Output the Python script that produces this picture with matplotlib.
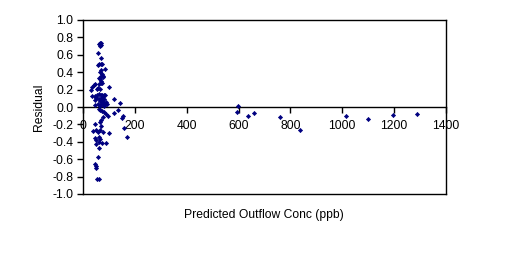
import matplotlib
matplotlib.use("Agg")
import matplotlib.pyplot as plt
from matplotlib.ticker import FormatStrFormatter

plt.rcParams["font.family"] = ["Liberation Sans", "DejaVu Sans"]

# predicted outflow concentration (ppb) and residuals
pred_conc = [
    62, 67, 71, 65, 70, 57, 69, 58, 63, 70, 74, 66, 73, 85, 70,
    60, 67, 71, 76, 69, 78, 62, 70, 75, 100,
    31, 36, 41, 47, 55, 58, 64,
    35, 45, 50, 55, 62, 68, 72, 76, 80, 85,
    46, 52, 60, 66, 70, 74, 78, 82, 88, 118,
    46, 58, 64, 70, 76, 80, 86, 92, 141,
    60, 66, 74, 80, 88, 95, 118, 136, 155, 150,
    45, 64, 70, 78, 68,
    39, 50, 56, 66, 100, 78, 157, 170,
    46, 52, 60, 64, 52, 62, 75, 88,
    63, 59, 45, 49, 52, 54, 61,
    598, 593, 635, 659, 760, 837, 1014, 1098, 1194, 1287,
]
residual = [
    0.72, 0.74, 0.71, 0.70, 0.73, 0.62, 0.56, 0.48, 0.49, 0.50, 0.50, 0.40, 0.38, 0.44, 0.42,
    0.33, 0.32, 0.36, 0.36, 0.30, 0.34, 0.27, 0.28, 0.28, 0.23,
    0.20, 0.23, 0.25, 0.26, 0.21, 0.22, 0.21,
    0.13, 0.13, 0.12, 0.14, 0.15, 0.14, 0.14, 0.13, 0.14, 0.14,
    0.08, 0.10, 0.09, 0.07, 0.10, 0.08, 0.06, 0.09, 0.06, 0.09,
    0.02, 0.03, 0.01, 0.04, 0.03, 0.01, 0.04, 0.03, 0.05,
    -0.02, -0.03, -0.05, -0.06, -0.08, -0.10, -0.065, -0.035, -0.10, -0.13,
    -0.19, -0.17, -0.15, -0.12, -0.22,
    -0.28, -0.27, -0.29, -0.27, -0.30, -0.29, -0.24, -0.34,
    -0.36, -0.38, -0.35, -0.37, -0.42, -0.40, -0.41, -0.41,
    -0.475, -0.58, -0.66, -0.68, -0.70, -0.83, -0.83,
    0.015, -0.054, -0.10, -0.065, -0.12, -0.27, -0.10, -0.135, -0.088, -0.077,
]

x_ticks = [0, 200, 400, 600, 800, 1000, 1200, 1400]
y_ticks = [1.0, 0.8, 0.6, 0.4, 0.2, 0.0, -0.2, -0.4, -0.6, -0.8, -1.0]

fig = plt.figure(figsize=(5.11, 2.57), dpi=100)
ax = fig.add_axes([83 / 511, 63 / 257, 363 / 511, 174 / 257])

ax.plot(pred_conc, residual, linestyle="none", marker="D", markersize=2.1,
        markeredgewidth=0.5, color="#000080", clip_on=False, zorder=3)

ax.set_xlim(0, 1400)
ax.set_ylim(-1.0, 1.0)
ax.set_xticks(x_ticks)
ax.set_yticks(y_ticks)
ax.yaxis.set_major_formatter(FormatStrFormatter("%.1f"))

# Excel style: category axis crosses at zero, box around plot area
ax.spines["bottom"].set_position(("data", 0))
for s in ax.spines.values():
    s.set_linewidth(1.0)
    s.set_color("black")
ax.axhline(-1.0, color="black", linewidth=1.0, clip_on=False)

ax.tick_params(axis="both", direction="out", length=4, width=1.0,
               labelsize=8.7, colors="black")
ax.tick_params(axis="y", pad=3)
ax.tick_params(axis="x", pad=5.5)

ax.set_ylabel("Residual", fontsize=8.7, labelpad=5)
fig.text(264 / 511, 1 - 215 / 257, "Predicted Outflow Conc (ppb)",
         ha="center", va="center", fontsize=8.7)

fig.savefig("out.png", dpi=100)
